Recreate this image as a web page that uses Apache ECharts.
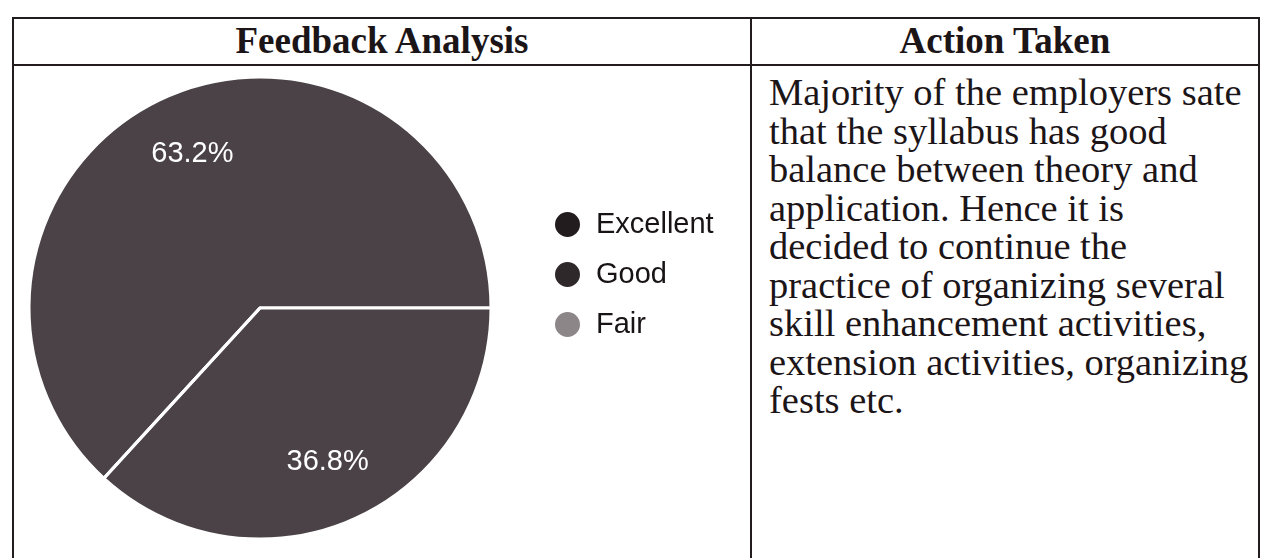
<!DOCTYPE html>
<html>
<head>
<meta charset="utf-8">
<script src="https://cdn.jsdelivr.net/npm/echarts@6/dist/echarts.min.js"></script>
<style>
  body { margin: 0; background: #fff; width: 1264px; height: 558px; overflow: hidden; position: relative; }
  .line { position: absolute; background: #231c1f; }
  .head { position: absolute; font-family: "Liberation Serif", serif; font-weight: bold; font-size: 37px; line-height: 46px; color: #1c1518; text-align: center; }
  #action { position: absolute; left: 769px; top: 73px; font-family: "Liberation Serif", serif; font-size: 38.5px; line-height: 38.5px; color: #1c1518; white-space: nowrap; }
  #chart { position: absolute; left: 13px; top: 66px; width: 737px; height: 492px; }
</style>
</head>
<body>
<div class="line" style="left:12px;top:17px;width:1248px;height:2px"></div>
<div class="line" style="left:12px;top:64px;width:1248px;height:2px"></div>
<div class="line" style="left:12px;top:17px;width:2px;height:541px"></div>
<div class="line" style="left:750px;top:17px;width:2px;height:541px"></div>
<div class="line" style="left:1258px;top:17px;width:2px;height:541px"></div>
<div class="head" style="left:14px;top:18px;width:736px">Feedback Analysis</div>
<div class="head" style="left:752px;top:18px;width:506px">Action Taken</div>
<div id="action">Majority of the employers sate<br>that the syllabus has good<br>balance between theory and<br>application. Hence it is<br>decided to continue the<br>practice of organizing several<br>skill enhancement activities,<br>extension activities, organizing<br>fests etc.</div>
<div id="chart"></div>
<script>
// 反馈数据
const categories = ['Excellent', 'Good', 'Fair'];
const values = [63.2, 36.8, 0];
const legendColors = ['#231c1f', '#2f282b', '#8c8689'];

const pieData = categories.map((name, i) => ({ name: name, value: values[i] }));

const myChart = echarts.init(document.getElementById('chart'));
myChart.setOption({
  animation: false,
  legend: {
    orient: 'vertical',
    left: 535,
    top: 139,
    icon: 'circle',
    itemWidth: 47,
    itemHeight: 27,
    itemGap: 21,
    textStyle: { fontFamily: 'Liberation Sans', fontSize: 29, lineHeight: 27, color: '#181315' },
    data: categories.map((name, i) => ({ name: name, itemStyle: { color: legendColors[i] } }))
  },
  series: [
    {
      // 饼图本体
      type: 'pie',
      center: [247, 242],
      radius: [0, 231],
      startAngle: 227.5,
      clockwise: true,
      silent: true,
      label: { show: false },
      labelLine: { show: false },
      itemStyle: { color: '#4a4246', borderColor: '#ffffff', borderWidth: 3 },
      data: pieData
    },
    {
      // 只用来放百分比标签
      type: 'pie',
      center: [247, 242],
      radius: [99, 231],
      startAngle: 227.5,
      clockwise: true,
      silent: true,
      itemStyle: { color: 'rgba(0,0,0,0)' },
      label: {
        position: 'inside',
        color: '#ffffff',
        fontFamily: 'Liberation Sans',
        fontSize: 29,
        formatter: p => p.value > 0 ? p.value.toFixed(1) + '%' : ''
      },
      labelLine: { show: false },
      data: pieData
    }
  ]
});
</script>
</body>
</html>
